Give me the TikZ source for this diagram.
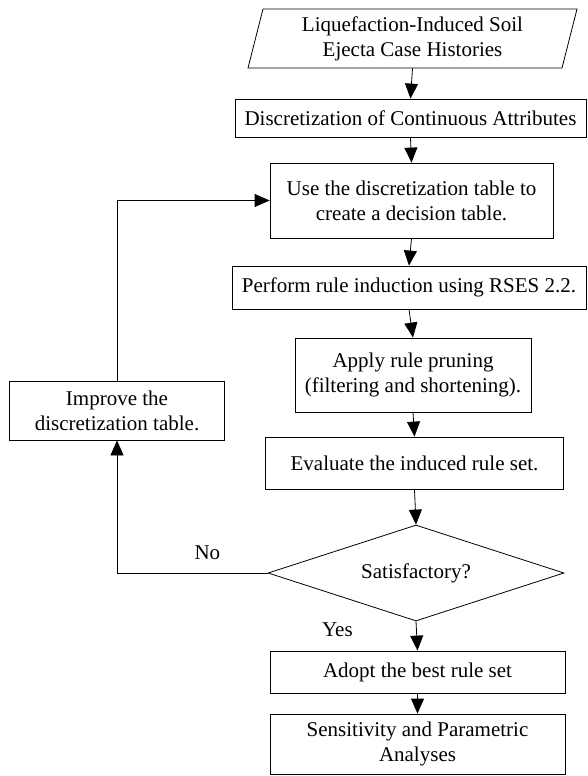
\documentclass[tikz,border=0pt]{standalone}
\usepackage{fontspec}
\setmainfont{Liberation Serif}
\usetikzlibrary{arrows.meta, shapes.geometric}

\begin{document}
\begin{tikzpicture}[x = 1pt, y = -1pt, font = \fontsize{21}{25}\selectfont,
    box/.style = {draw, line width = 0.8pt, align = center, inner sep = 2pt},
    decision/.style = {draw, diamond, aspect = 3, line width = 0.8pt, inner sep = 0pt, minimum width = 296pt, minimum height = 96pt},
    >={Triangle[length = 15pt, width = 13pt]}, line width = 0.8pt]
      \useasboundingbox (0, 0) rectangle (587, 776);
      \node[align = center, minimum width = 300pt, minimum height = 59pt] (hist) at (412.5, 38.5) {Liquefaction-Induced Soil\\Ejecta Case Histories};
      \draw (263, 9) -- (577, 9) -- (562, 68) -- (248, 68) -- cycle;
      \node[box, minimum width = 351pt, minimum height = 38pt] (discr) at (410.5, 118) {Discretization of Continuous Attributes};
      \node[box, minimum width = 283pt, minimum height = 75pt] (usetab) at (411.5, 200.5) {Use the discretization table to\\create a decision table.};
      \node[box, minimum width = 354pt, minimum height = 43pt] (induce) at (409, 287.5) {Perform rule induction using RSES 2.2.};
      \node[box, minimum width = 236pt, minimum height = 74pt] (prune) at (413, 375) {Apply rule pruning\\(filtering and shortening).};
      \node[box, minimum width = 298pt, minimum height = 52pt] (eval) at (414.5, 463) {Evaluate the induced rule set.};
      \node[decision] (sat) at (416, 573) {Satisfactory?};
      \node[box, minimum width = 295pt, minimum height = 42pt] (adopt) at (417.5, 672) {Adopt the best rule set};
      \node[box, minimum width = 295pt, minimum height = 60pt] (sens) at (417.5, 744) {Sensitivity and Parametric\\Analyses};
      \node[box, minimum width = 215pt, minimum height = 59pt] (improve) at (117, 410.5) {Improve the\\discretization table.};
      \path[->] (hist.south) edge (discr.north)
                (discr.south) edge (usetab.north)
                (usetab.south) edge (induce.north)
                (induce.south) edge (prune.north)
                (prune.south) edge (eval.north)
                (eval.south) edge (sat.north)
                (sat.south) edge node[pos = 0.3, left = 60pt] {Yes} (adopt.north)
                (adopt.south) edge (sens.north);
      \draw[->] (sat.west) -| node[pos = 0.2, above = 10pt] {No} (improve.south);
      \draw[->] (improve.north) |- (usetab.west);
    \end{tikzpicture}
\end{document}
